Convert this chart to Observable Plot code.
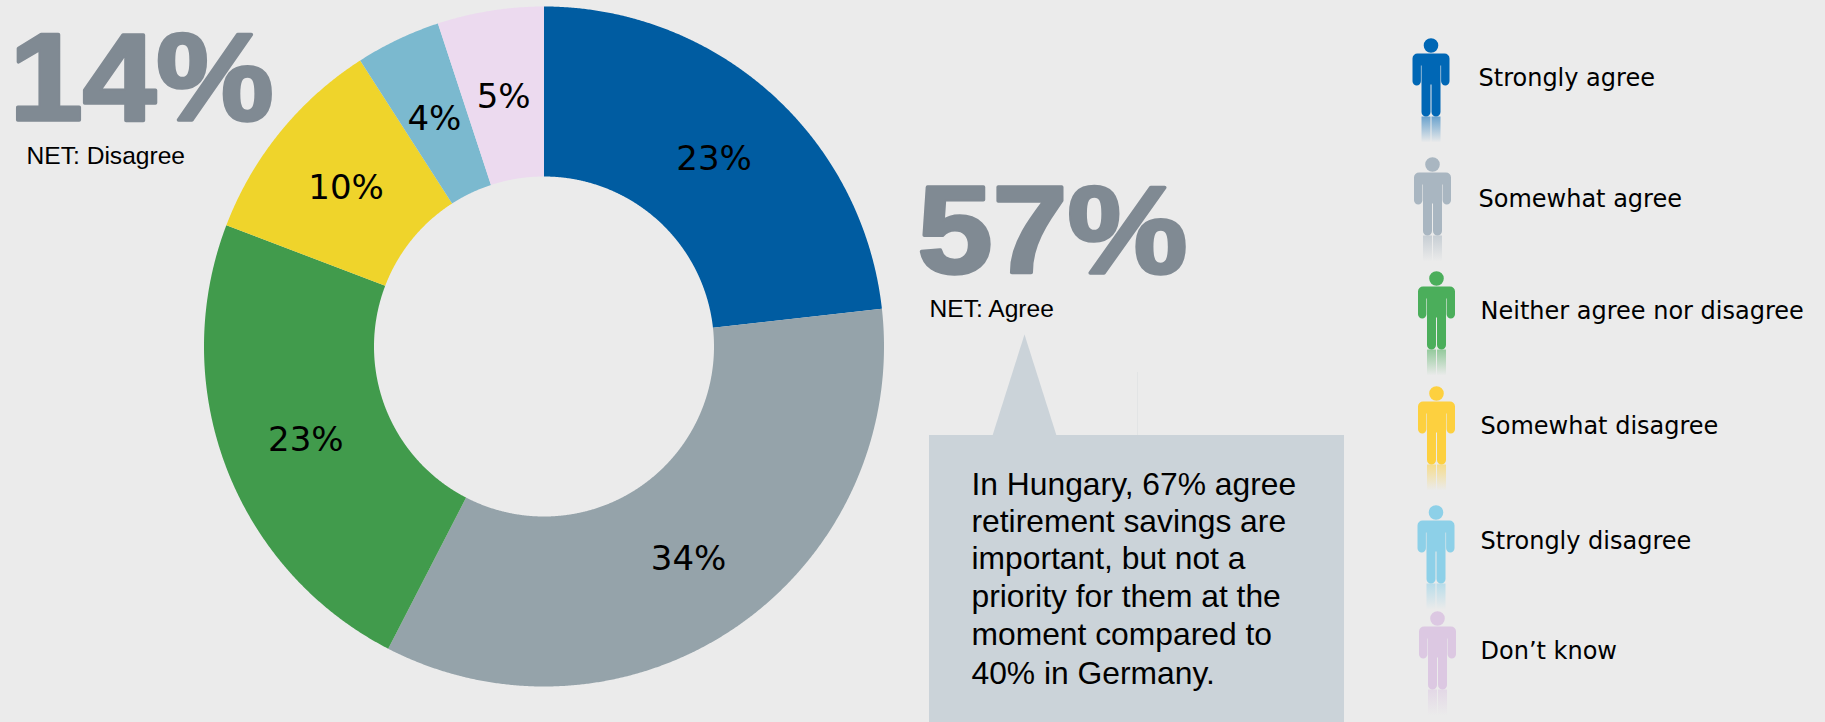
<!DOCTYPE html>
<html>
<head>
<meta charset="utf-8">
<script src="https://cdn.jsdelivr.net/npm/d3@7"></script>
<script src="https://cdn.jsdelivr.net/npm/@observablehq/plot@0.6"></script>
<style>
html,body{margin:0;padding:0;background:#ebebeb;overflow:hidden}
svg{display:block}
</style>
</head>
<body>
<div id="chart"></div>
<script>
// ---- data ----
const categories = ["Strongly agree","Somewhat agree","Neither agree nor disagree","Somewhat disagree","Strongly disagree","Don\u2019t know"];
const values = [23,34,23,10,4,5];
const sliceColors = ["#005ca1","#95a3aa","#419b4c","#efd42b","#7bb9cf","#ecdaef"];
const iconColors = ["#0067b5","#a9b6c1","#4bae5b","#fdd03f","#8dd0e8","#dcc8e2"];
const callout = ["In Hungary, 67% agree","retirement savings are","important, but not a","priority for them at the","moment compared to","40% in Germany."];
const nets = [{big:"14%",label:"NET: Disagree"},{big:"57%",label:"NET: Agree"}];

// ---- layout ----
const W = 1825, H = 722;
const C = {x:543.5,y:346,outer:340,inner:170,label:255};
const iconPos = [[1430.5,45],[1432,164],[1436,278],[1436,393],[1435.5,512],[1437,618]];
const legendPos = [[1478,78],[1478,199],[1480,311],[1480,426],[1480,541],[1480,651]];
const bigPos = [[9,119],[917,272]];
const bigLength = [264,270];
const netPos = [[26,156],[929,309]];
const calloutX = 971, calloutY = [484,521,558,596,634,673];

const total = d3.sum(values);
const cum = d3.cumsum(values);
const slices = categories.map((c,i)=>({category:c,value:values[i],start:(cum[i]-values[i])/total,end:cum[i]/total}));
const polar = (f,r)=>[C.x+r*Math.sin(2*Math.PI*f),C.y-r*Math.cos(2*Math.PI*f)];

const slicePts = slices.flatMap(s=>{
  const n = Math.max(2,Math.ceil((s.end-s.start)*1440));
  const fr = d3.range(n+1).map(k=>s.start+(s.end-s.start)*k/n);
  return [...fr.map(f=>polar(f,C.outer)),...fr.reverse().map(f=>polar(f,C.inner))]
    .map(([x,y])=>({category:s.category,x,y}));
});
const sliceLabels = slices.map(s=>{
  const [x,y]=polar((s.start+s.end)/2,C.label);
  return {x,y:y+2.5,text:`${s.value}%`};
});

// person symbol, origin at the centre of the head
const person = {draw(c){
  c.moveTo(7.3,0);c.arc(0,0,7.3,0,2*Math.PI);c.closePath();
  const r=5;
  c.moveTo(-18.5+r,8);
  c.lineTo(18.5-r,8);
  c.arc(18.5-r,8+r,r,-Math.PI/2,0);
  c.lineTo(18.5,35.8);
  c.arc(14.3,35.8,4.2,0,Math.PI);
  c.lineTo(10.1,20);c.lineTo(9.5,20);
  c.lineTo(9.5,66.5);
  c.arc(5,66.5,4.5,0,Math.PI);
  c.lineTo(0.5,39);c.lineTo(-0.5,39);
  c.lineTo(-0.5,66.5);
  c.arc(-5,66.5,4.5,0,Math.PI);
  c.lineTo(-9.5,20);c.lineTo(-10.1,20);c.lineTo(-10.1,35.8);
  c.arc(-14.3,35.8,4.2,0,Math.PI);
  c.lineTo(-18.5,8+r);
  c.arc(-18.5+r,8+r,r,Math.PI,1.5*Math.PI);
  c.closePath();
}};
// faded mirror of the legs
const reflection = {draw(c){
  c.rect(-9.5,71,9,26);
  c.rect(0.5,71,9,26);
}};

const defs = () => {
  const d = d3.create("svg:defs");
  iconColors.forEach((col,i)=>{
    const g = d.append("linearGradient").attr("id",`fade${i}`).attr("x1",0).attr("x2",0).attr("y1",0).attr("y2",1);
    g.append("stop").attr("offset",0).attr("stop-color",col).attr("stop-opacity",0.55);
    g.append("stop").attr("offset",1).attr("stop-color",col).attr("stop-opacity",0);
  });
  return d.node();
};

const sans = "Liberation Sans, Arial, sans-serif";
const verdana = "DejaVu Sans, Verdana, sans-serif";

const plot = Plot.plot({
  width:W,height:H,margin:0,
  style:{background:"#ebebeb"},
  x:{domain:[0,W],range:[0,W],axis:null},
  y:{domain:[0,H],range:[0,H],axis:null},
  color:{domain:categories,range:sliceColors},
  marks:[
    defs,
    Plot.line(slicePts,{x:"x",y:"y",z:"category",fill:"category",stroke:null,curve:"linear",title:"category"}),
    Plot.text(sliceLabels,{x:"x",y:"y",text:"text",fill:"#000",fontFamily:verdana,fontSize:34}),
    // big net numbers
    Plot.text(nets,{className:"bignet",x:(d,i)=>bigPos[i][0],y:(d,i)=>bigPos[i][1],text:"big",textAnchor:"start",lineAnchor:"bottom",fontFamily:sans,fontWeight:700,fontSize:125,fill:"#808a93",stroke:"#808a93",strokeWidth:3.5}),
    Plot.text(nets,{x:(d,i)=>netPos[i][0],y:(d,i)=>netPos[i][1],text:"label",textAnchor:"start",fontFamily:sans,fontSize:24.6,fill:"#000"}),
    // callout
    Plot.ruleX([1137],{y1:372,y2:435,stroke:"#e2e4e5",strokeWidth:1}),
    Plot.rect([0],{x1:929,x2:1344,y1:435,y2:722,fill:"#cbd3d9"}),
    Plot.line([[1024,334],[1056,435],[992,435]],{x:d=>d[0],y:d=>d[1],fill:"#cbd3d9",stroke:null}),
    Plot.text(callout,{x:calloutX,y:(d,i)=>calloutY[i],text:d=>d,textAnchor:"start",fontFamily:sans,fontSize:31.8,fill:"#000"}),
    // legend
    ...categories.flatMap((c,i)=>[
      Plot.dot([c],{x:()=>iconPos[i][0],y:()=>iconPos[i][1],symbol:()=>reflection,r:10,fill:`url(#fade${i})`,stroke:null}),
      Plot.dot([c],{x:()=>iconPos[i][0],y:()=>iconPos[i][1],symbol:()=>person,r:10,fill:iconColors[i],stroke:null})
    ]),
    Plot.text(categories,{x:(d,i)=>legendPos[i][0],y:(d,i)=>legendPos[i][1],text:d=>d,textAnchor:"start",fontFamily:verdana,fontSize:24,fill:"#000"})
  ]
});
// the heavy numerals of the original are wider than the installed bold face
d3.select(plot).selectAll(".bignet text")
  .attr("textLength",(d,i)=>bigLength[i])
  .attr("lengthAdjust","spacingAndGlyphs");
document.getElementById("chart").append(plot);
</script>
</body>
</html>
